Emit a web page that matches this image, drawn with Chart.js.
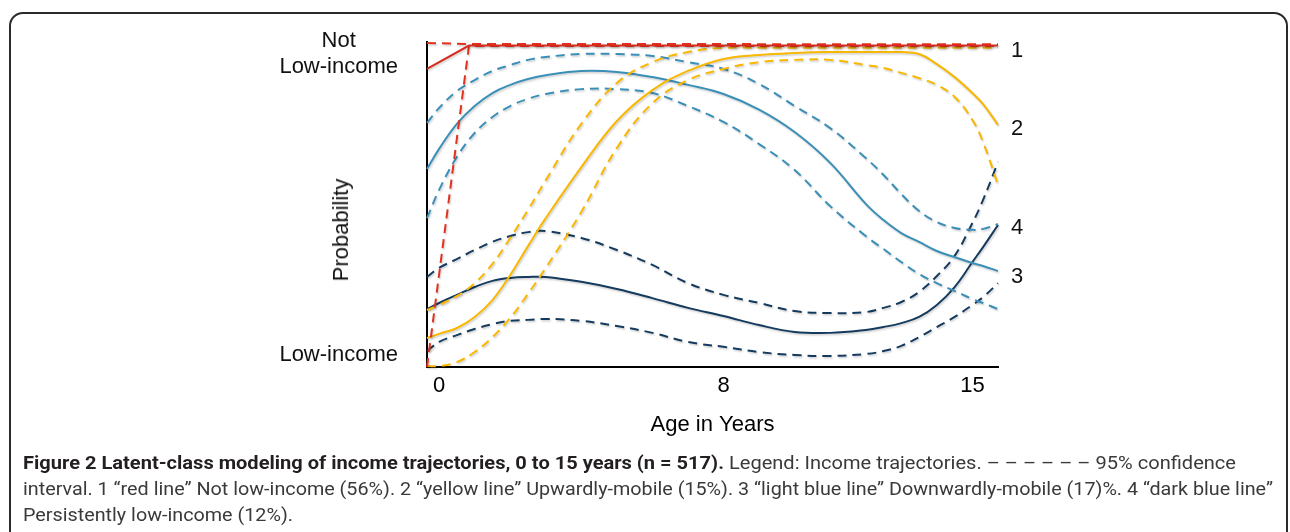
<!DOCTYPE html>
<html><head><meta charset="utf-8">
<script src="https://cdn.jsdelivr.net/npm/chart.js@4.4.1/dist/chart.umd.min.js"></script>
<style>
html,body{margin:0;padding:0;background:#fff;width:1290px;height:532px;overflow:hidden;}
#frame{position:absolute;left:9px;top:12px;width:1279px;height:640px;border:2px solid #2b2b2b;border-radius:14px;box-sizing:border-box;}
#wrap{position:absolute;left:0;top:0;width:1290px;height:532px;}
.lbl{position:absolute;font-family:"Liberation Sans",Arial,sans-serif;font-size:22px;color:#111;line-height:1;white-space:nowrap;}
#ylab{transform:translate(-50%,-50%) rotate(-90deg);}
.end{transform:translate(-50%,-50%);}
#caption{position:absolute;left:23px;top:450px;font-family:Roboto,"Open Sans",sans-serif;font-size:18px;line-height:26px;color:#3a3a3a;white-space:nowrap;}
#caption div{transform-origin:0 50%;display:block;width:max-content;}
#caption b{color:#231f20;}
</style></head>
<body>
<div id="frame"></div>
<div id="wrap"><canvas id="c" width="1290" height="532"></canvas></div>
<div class="lbl" id="ylab" style="left:341px;top:230px;">Probability</div>
<div class="lbl end" style="left:1017px;top:50px;">1</div>
<div class="lbl end" style="left:1017px;top:128px;">2</div>
<div class="lbl end" style="left:1017px;top:227px;">4</div>
<div class="lbl end" style="left:1017px;top:276px;">3</div>
<div id="caption">
<div id="cl1"><b>Figure 2 Latent-class modeling of income trajectories, 0 to 15 years (n = 517).</b> Legend: Income trajectories. – – – – – – 95% confidence</div>
<div id="cl2">interval. 1 “red line” Not low-income (56%). 2 “yellow line” Upwardly-mobile (15%). 3 “light blue line” Downwardly-mobile (17)%. 4 “dark blue line”</div>
<div id="cl3">Persistently low-income (12%).</div>
</div>
<script>
// ---- data (age in years, probability of not being low-income) ----
const ages = [-0.34, 0, 0.5, 1, 1.5, 2, 2.5, 3, 4, 5, 6, 7, 8, 9, 10, 11, 12, 12.5, 13, 13.5, 14, 14.5, 15, 15.3, 15.72];

const redAges = [-0.34, 0.84, 15.72];
const redLine = [0.917, 0.989, 0.989];
const redUpper = [0.997, 0.994, 0.993];
const redLower = [0.0, 0.988, 0.988];

const yellowLine = [0.089, 0.102, 0.120, 0.154, 0.206, 0.283, 0.372, 0.458, 0.615, 0.757, 0.852, 0.911, 0.948, 0.960, 0.966, 0.969, 0.969, 0.969, 0.969, 0.963, 0.932, 0.892, 0.843, 0.809, 0.745];
const yellowUpper = [0.175, 0.191, 0.218, 0.258, 0.317, 0.397, 0.483, 0.575, 0.748, 0.874, 0.938, 0.969, 0.982, 0.982, 0.982, 0.982, 0.982, 0.982, 0.982, 0.982, 0.982, 0.982, 0.982, 0.982, 0.982];
const yellowLower = [0.003, 0.003, 0.015, 0.046, 0.092, 0.151, 0.225, 0.305, 0.477, 0.674, 0.812, 0.883, 0.917, 0.938, 0.945, 0.945, 0.929, 0.920, 0.905, 0.889, 0.868, 0.831, 0.760, 0.692, 0.560];

const lightBlueLine = [0.609, 0.671, 0.748, 0.803, 0.843, 0.868, 0.886, 0.898, 0.911, 0.908, 0.892, 0.868, 0.840, 0.792, 0.723, 0.628, 0.502, 0.452, 0.412, 0.385, 0.357, 0.338, 0.320, 0.311, 0.295];
const lightBlueUpper = [0.751, 0.797, 0.849, 0.883, 0.911, 0.929, 0.945, 0.954, 0.963, 0.963, 0.957, 0.938, 0.917, 0.871, 0.803, 0.735, 0.643, 0.591, 0.532, 0.480, 0.446, 0.428, 0.422, 0.425, 0.440];
const lightBlueLower = [0.458, 0.545, 0.646, 0.720, 0.769, 0.803, 0.825, 0.840, 0.855, 0.855, 0.843, 0.803, 0.754, 0.686, 0.606, 0.495, 0.403, 0.363, 0.323, 0.286, 0.258, 0.234, 0.209, 0.197, 0.178];

const darkBlueLine = [0.178, 0.197, 0.222, 0.246, 0.265, 0.274, 0.277, 0.277, 0.262, 0.240, 0.212, 0.182, 0.157, 0.129, 0.108, 0.105, 0.114, 0.123, 0.135, 0.154, 0.191, 0.246, 0.323, 0.369, 0.437];
const darkBlueUpper = [0.277, 0.305, 0.332, 0.360, 0.385, 0.403, 0.415, 0.418, 0.397, 0.360, 0.314, 0.258, 0.222, 0.197, 0.172, 0.166, 0.169, 0.182, 0.200, 0.231, 0.280, 0.342, 0.443, 0.514, 0.631];
const darkBlueLower = [0.049, 0.077, 0.098, 0.117, 0.132, 0.142, 0.145, 0.148, 0.142, 0.126, 0.105, 0.077, 0.062, 0.046, 0.037, 0.034, 0.040, 0.049, 0.065, 0.092, 0.123, 0.154, 0.191, 0.215, 0.258];

const xTickValues = [0, 8, 15];
const xTickLabels = ['0', '8', '15'];
const yTickValues = [0.037, 0.963];
const yTickLabels = ['Low-income', ['Not', 'Low-income']];

// ---- build ----
const pts = (xs, ys) => xs.map((x, i) => ({x, y: ys[i]}));
const RED = '#d52b1e', YEL = '#f8b700', LB = '#3a8fb8', DB = '#143a5e';
const dash = [9, 6];
function ds(data, color, dashed, straight) {
  return {
    data, borderColor: color, borderWidth: 2, pointRadius: 0,
    borderDash: dashed ? dash : [], fill: false, clip: false,
    tension: straight ? 0 : 0.4
  };
}
const datasets = [
  ds(pts(redAges, redLine), RED, false, true),
  ds(pts(redAges, redUpper), '#e0321f', true, true),
  ds(pts(redAges, redLower), '#e0321f', true, true),
  ds(pts(ages, yellowUpper), YEL, true),
  ds(pts(ages, yellowLine), YEL, false),
  ds(pts(ages, yellowLower), YEL, true),
  ds(pts(ages, lightBlueLine), LB, false),
  ds(pts(ages, lightBlueUpper), LB, true),
  ds(pts(ages, lightBlueLower), LB, true),
  ds(pts(ages, darkBlueLine), DB, false),
  ds(pts(ages, darkBlueUpper), DB, true),
  ds(pts(ages, darkBlueLower), DB, true)
];

const shadow = {
  id: 'shadow',
  beforeDatasetDraw(chart) { const c = chart.ctx; c.save(); c.shadowColor = 'rgba(0,0,0,0.2)'; c.shadowBlur = 2; c.shadowOffsetX = 1; c.shadowOffsetY = 1.5; },
  afterDatasetDraw(chart) { chart.ctx.restore(); }
};

Chart.defaults.font.family = '"Liberation Sans", Arial, sans-serif';
Chart.defaults.color = '#000';

new Chart(document.getElementById('c'), {
  type: 'line',
  data: {datasets},
  plugins: [shadow],
  options: {
    responsive: false, animation: false, events: [],
    layout: {padding: {left: 0, top: 42, right: 292, bottom: 94}},
    plugins: {legend: {display: false}, tooltip: {enabled: false}},
    scales: {
      x: {
        type: 'linear', min: -0.34, max: 15.72,
        afterBuildTicks: s => { s.ticks = xTickValues.map(v => ({value: v})); },
        afterFit: s => { s.height = 71; s.paddingLeft = 0; s.paddingRight = 0; },
        grid: {display: false, drawTicks: false},
        border: {display: true, color: '#000', width: 2},
        ticks: {padding: 6, autoSkip: false, maxRotation: 0, font: {size: 22}, color: '#000',
          callback: (v, i) => xTickLabels[i]},
        title: {display: true, text: 'Age in Years', font: {size: 22}, color: '#000', padding: 0}
      },
      y: {
        type: 'linear', min: 0, max: 1,
        afterBuildTicks: s => { s.ticks = yTickValues.map(v => ({value: v})); },
        afterFit: s => { s.width = 427; s.paddingTop = 0; s.paddingBottom = 0; },
        grid: {display: false, drawTicks: false},
        border: {display: true, color: '#000', width: 2},
        ticks: {padding: 29, crossAlign: 'center', autoSkip: false, font: {size: 22}, color: '#111',
          callback: (v, i) => yTickLabels[i]}
      }
    }
  }
});

// fit caption lines to the reference widths
function fitCaption() {
  const l1 = document.getElementById('cl1'), l2 = document.getElementById('cl2'), l3 = document.getElementById('cl3');
  const s1 = 1213 / l1.getBoundingClientRect().width;
  const s2 = 1250 / l2.getBoundingClientRect().width;
  l1.style.transform = 'scaleX(' + s1 + ')';
  l2.style.transform = 'scaleX(' + s2 + ')';
  l3.style.transform = 'scaleX(' + s2 + ')';
}
fitCaption();
</script>
</body></html>
